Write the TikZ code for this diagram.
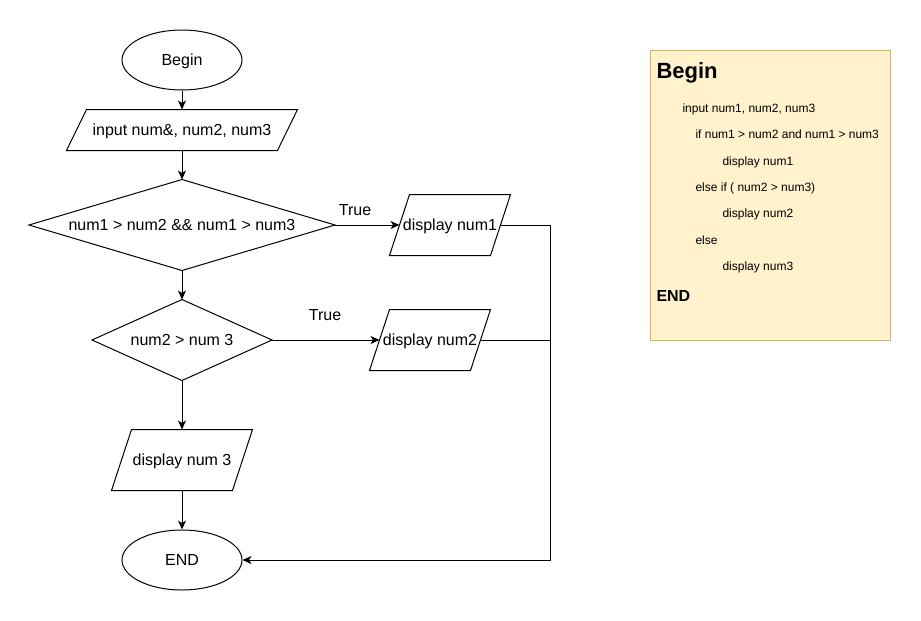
\documentclass[tikz,border=0pt]{standalone}
\usepackage{fontspec}
\setmainfont{Liberation Sans}
\usetikzlibrary{shapes.geometric,arrows.meta}

\definecolor{notefill}{HTML}{FFF2CC}
\definecolor{noteline}{HTML}{D6B656}

% slanted input/output box drawn around a (borderless) rectangle node
\newcommand\parpath[2]{%
  \draw ([xshift=#2]#1.north west) -- ([xshift=#2]#1.north east)
     -- ([xshift=-#2]#1.south east) -- ([xshift=-#2]#1.south west) -- cycle;}
% decision diamond through the four side anchors of a rectangle node
\newcommand\diapath[1]{%
  \draw (#1.north) -- (#1.east) -- (#1.south) -- (#1.west) -- cycle;}

\begin{document}
\begin{tikzpicture}[x=1pt,y=-1pt,
  font=\fontsize{16}{19}\selectfont,
  line width=1pt,
  lbl/.style={text height=11.5pt, text depth=0pt},
  term/.style={ellipse, draw, lbl, minimum width=120, minimum height=60, inner sep=0},
  iobox/.style={rectangle, lbl, minimum width=#1, minimum height=60, inner sep=0},
  dbox/.style={rectangle, lbl, inner sep=0},
  arr/.style={-{Stealth[length=9pt,width=8pt,inset=2.5pt]}},
  notetext/.style={anchor=base west, inner sep=0, font=\fontsize{12}{14}\selectfont},
  notehead/.style={anchor=base west, inner sep=0, font=\bfseries\fontsize{#1}{#1}\selectfont}]

\useasboundingbox (0,0) rectangle (921,621);

% flowchart
\node[term] (begin) at (182,60) {Begin};
\node[iobox=210, minimum height=40] (input) at (182,130) {input num\&, num2, num3};
\node[dbox, minimum width=305, minimum height=90] (cond1) at (182,225) {num1 > num2 \&\& num1 > num3};
\node[iobox=100] (out1) at (450,225) {display num1};
\node[dbox, minimum width=179, minimum height=80] (cond2) at (182,340) {num2 > num 3};
\node[iobox=100] (out2) at (430,340) {display num2};
\node[iobox=120] (out3) at (182,460) {display num 3};
\node[term] (stop) at (182,560) {END};
\node[lbl] (true1) at (355,210) {True};
\node[lbl] (true2) at (325,315) {True};
\coordinate (merge) at (550,225);

\parpath{input}{10pt}
\parpath{out1}{10pt}
\parpath{out2}{10pt}
\parpath{out3}{10pt}
\diapath{cond1}
\diapath{cond2}

\draw[arr] (begin.south) -- (input.north);
\draw[arr] (input.south) -- (cond1.north);
\draw[arr] (cond1.east) -- (out1.west);
\draw[arr] (cond1.south) -- (cond2.north);
\draw[arr] (cond2.east) -- (out2.west);
\draw[arr] (cond2.south) -- (out3.north);
\draw[arr] (out3.south) -- (stop.north);
\draw[arr] (out1.east) -- (merge) |- (stop.east);
\draw (out2.east) -- (out2.east -| merge);

% pseudocode note
\node[rectangle, draw=noteline, fill=notefill, line width=0.8pt,
      minimum width=240, minimum height=290, inner sep=0] (note) at (770,195) {};
\node[notehead=22] (nBegin) at (656,78) {Begin};
\node[notetext] (n1) at (682,112.7) {input num1, num2, num3};
\node[notetext] (n2) at (695,138.7) {if num1 > num2 and num1 > num3};
\node[notetext] (n3) at (722,165) {display num1};
\node[notetext] (n4) at (695,191) {else if ( num2 > num3)};
\node[notetext] (n5) at (722,217.5) {display num2};
\node[notetext] (n6) at (695,244) {else};
\node[notetext] (n7) at (722,270.3) {display num3};
\node[notehead=16] (nEnd) at (656,301) {END};
\end{tikzpicture}
\end{document}
